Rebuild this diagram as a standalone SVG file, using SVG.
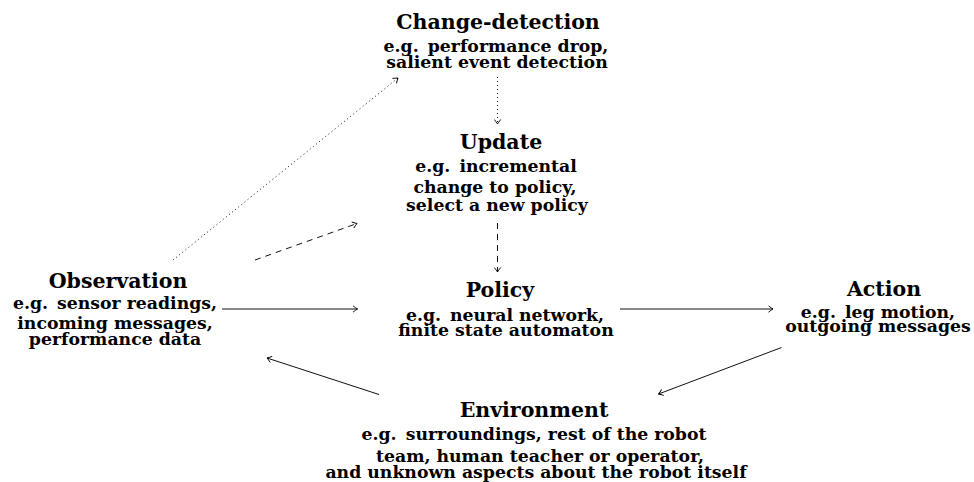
<svg xmlns="http://www.w3.org/2000/svg" width="974" height="482" viewBox="0 0 974 482">
<style>
text{font-family:"DejaVu Serif","Liberation Serif",serif;font-weight:bold;fill:#000;text-anchor:middle}
.t{font-size:20.5px}
.b{font-size:17.3px}
.ln{fill:none;stroke:#111;stroke-width:1}
.dot{stroke-dasharray:1 3}
.dash{stroke-dasharray:6 5}
</style>
<defs>
<marker id="to" viewBox="-6 -4 7 8" refX="0" refY="0" markerWidth="7" markerHeight="8" markerUnits="userSpaceOnUse" orient="auto">
<path d="M-4.5,-3.2 Q-1.5,-0.8 0,0 Q-1.5,0.8 -4.5,3.2" fill="none" stroke="#000" stroke-width="0.9" stroke-dasharray="none"/>
</marker>
</defs>
<rect width="974" height="482" fill="#fff"/>
<g id="connectors">
<line class="ln dot" x1="497.5" y1="77" x2="497.5" y2="124" marker-end="url(#to)"/>
<line class="ln dot" x1="173" y1="260" x2="398" y2="78" marker-end="url(#to)"/>
<line class="ln dash" x1="255" y1="260" x2="357" y2="223.5" marker-end="url(#to)"/>
<line class="ln dash" x1="497.5" y1="223" x2="497.5" y2="272" marker-end="url(#to)"/>
<line class="ln" x1="222" y1="309" x2="357.5" y2="309" marker-end="url(#to)"/>
<line class="ln" x1="620" y1="309" x2="773" y2="309" marker-end="url(#to)"/>
<line class="ln" x1="781.5" y1="347.5" x2="658.5" y2="394" marker-end="url(#to)"/>
<line class="ln" x1="379" y1="394.5" x2="267" y2="358" marker-end="url(#to)"/>
</g>
<g id="change-detection">
<text class="t" x="498" y="29">Change-detection</text>
<text class="b" x="496" y="52">e.g.<tspan dx="3"> performance drop,</tspan></text>
<text class="b" x="497" y="68">salient event detection</text>
</g>
<g id="update">
<text class="t" x="501" y="149">Update</text>
<text class="b" x="496" y="172">e.g.<tspan dx="3"> incremental</tspan></text>
<text class="b" x="495" y="193">change to policy,</text>
<text class="b" x="497" y="211">select a new policy</text>
</g>
<g id="policy">
<text class="t" x="500" y="297">Policy</text>
<text class="b" x="505" y="321">e.g.<tspan dx="3"> neural network,</tspan></text>
<text class="b" x="506" y="335.5">finite state automaton</text>
</g>
<g id="observation">
<text class="t" x="118" y="288">Observation</text>
<text class="b" x="115" y="309">e.g.<tspan dx="3"> sensor readings,</tspan></text>
<text class="b" x="115" y="329">incoming messages,</text>
<text class="b" x="115" y="345">performance data</text>
</g>
<g id="action">
<text class="t" x="884" y="296">Action</text>
<text class="b" x="878" y="318">e.g.<tspan dx="3"> leg motion,</tspan></text>
<text class="b" x="878" y="332">outgoing messages</text>
</g>
<g id="environment">
<text class="t" x="534" y="417">Environment</text>
<text class="b" x="534" y="440">e.g.<tspan dx="3"> surroundings, rest of the robot</tspan></text>
<text class="b" x="540" y="462">team, human teacher or operator,</text>
<text class="b" x="536" y="478">and unknown aspects about the robot itself</text>
</g>
</svg>
